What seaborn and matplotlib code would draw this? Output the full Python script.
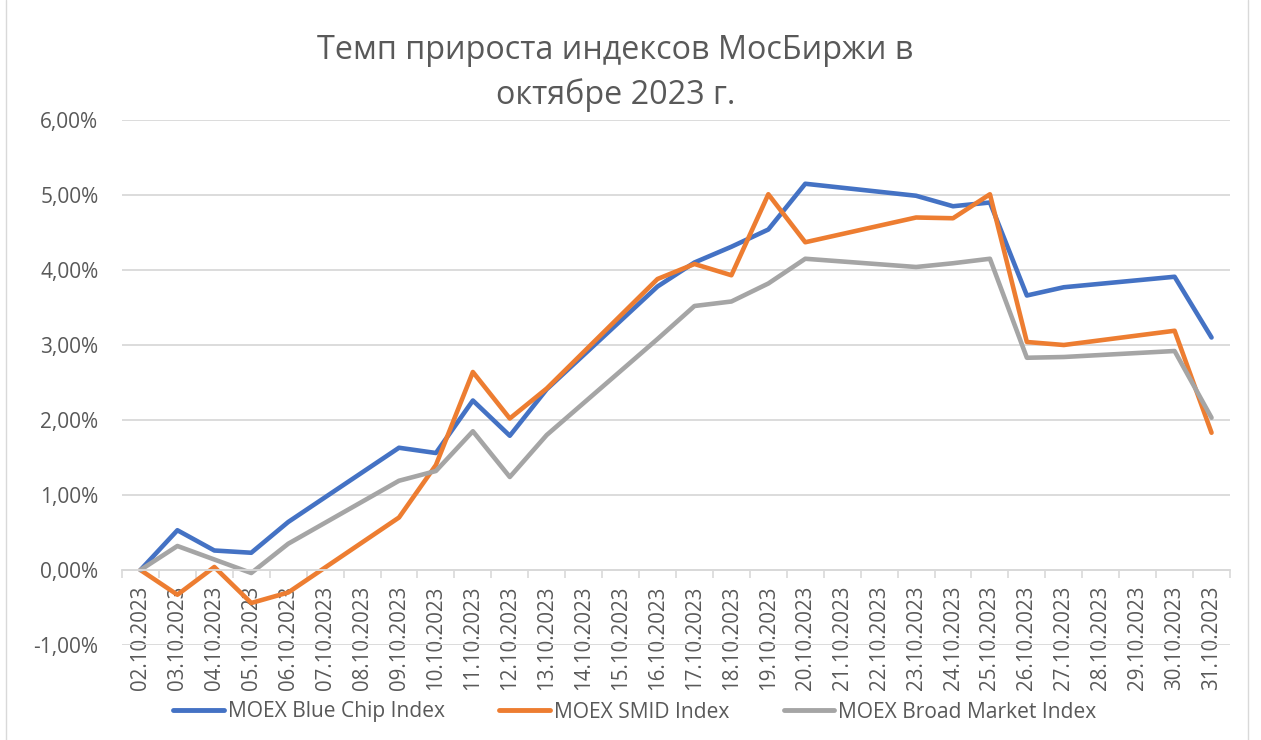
import pandas as pd
import numpy as np
import matplotlib
matplotlib.use("Agg")
import matplotlib.pyplot as plt
import matplotlib.ticker as mticker
from matplotlib.lines import Line2D
import seaborn as sns

# Trading days and index growth (%) since 02.10.2023
trade_dates = ['02.10.2023', '03.10.2023', '04.10.2023', '05.10.2023', '06.10.2023',
               '09.10.2023', '10.10.2023', '11.10.2023', '12.10.2023', '13.10.2023',
               '16.10.2023', '17.10.2023', '18.10.2023', '19.10.2023', '20.10.2023',
               '23.10.2023', '24.10.2023', '25.10.2023', '26.10.2023', '27.10.2023',
               '30.10.2023', '31.10.2023']
blue_chip = [0.00, 0.53, 0.26, 0.23, 0.64, 1.63, 1.56, 2.26, 1.79, 2.41,
             3.78, 4.10, 4.31, 4.54, 5.15, 4.99, 4.85, 4.90, 3.66, 3.77,
             3.91, 3.10]
smid = [0.00, -0.33, 0.04, -0.44, -0.30, 0.70, 1.40, 2.64, 2.02, 2.42,
        3.88, 4.08, 3.93, 5.01, 4.37, 4.70, 4.69, 5.01, 3.04, 3.00,
        3.19, 1.83]
broad = [0.00, 0.32, 0.14, -0.04, 0.35, 1.19, 1.32, 1.85, 1.24, 1.80,
         3.08, 3.52, 3.58, 3.82, 4.15, 4.04, 4.09, 4.15, 2.83, 2.84,
         2.92, 2.03]
series_names = ['MOEX Blue Chip Index', 'MOEX SMID Index', 'MOEX Broad Market Index']
series_colors = ['#4472C4', '#ED7D31', '#A5A5A5']

# Category axis: every calendar day of the period
all_days = pd.date_range('2023-10-02', '2023-10-31', freq='D')
day_labels = [d.strftime('%d.%m.%Y') for d in all_days]

dates = pd.to_datetime(trade_dates, format='%d.%m.%Y')
day_idx = (dates - all_days[0]).days

df = pd.concat([
    pd.DataFrame({'day': day_idx, 'value': vals, 'index': name})
    for name, vals in zip(series_names, [blue_chip, smid, broad])
])

sns.set_theme(style='white')
plt.rcParams['font.family'] = ['Open Sans', 'DejaVu Sans']
text_color = '#595959'
grid_color = '#D9D9D9'

fig = plt.figure(figsize=(12.61, 7.40), dpi=100)
ax = fig.add_axes([122 / 1261, 1 - 645 / 740, (1230 - 122) / 1261, (645 - 120) / 740])

sns.lineplot(data=df, x='day', y='value', hue='index', hue_order=series_names,
             palette=series_colors, linewidth=3.3, ax=ax, legend=False)
for line in ax.lines:
    line.set_solid_joinstyle('round')
    line.set_solid_capstyle('round')

ax.set_xlim(-0.5, len(all_days) - 0.5)
ax.set_ylim(-1, 6)
ax.yaxis.set_major_locator(mticker.MultipleLocator(1))
ax.yaxis.set_major_formatter(mticker.FuncFormatter(lambda v, p: f'{v:.2f}%'.replace('.', ',')))
ax.grid(True, axis='y', color=grid_color, linewidth=1.3)
ax.set_axisbelow(True)

ax.set_xticks(np.arange(len(all_days)))
ax.set_xticklabels(day_labels)
ax.set_xticks(np.arange(len(all_days) + 1) - 0.5, minor=True)
ax.tick_params(axis='x', which='major', length=0, pad=11, labelsize=14.8,
               labelcolor=text_color, labelrotation=90)
ax.tick_params(axis='x', which='minor', length=6, width=1.2, color=grid_color, direction='out', bottom=True)
ax.tick_params(axis='y', length=0, pad=17, labelsize=15, labelcolor=text_color)

for s in ['top', 'right', 'left']:
    ax.spines[s].set_visible(False)
ax.spines['bottom'].set_position(('data', 0))
ax.spines['bottom'].set_color(grid_color)
ax.spines['bottom'].set_linewidth(1.3)
ax.set_xlabel('')
ax.set_ylabel('')

fig.text(0.488, 1 - 73 / 740, 'Темп прироста индексов МосБиржи в\nоктябре 2023 г.',
         ha='center', va='center', fontsize=23.3, color=text_color, linespacing=1.45)

handles = [Line2D([0], [0], color=c, linewidth=3.5, solid_capstyle='round') for c in series_colors]
fig.legend(handles, series_names, loc='center', bbox_to_anchor=(635 / 1261, 1 - 712 / 740), ncol=3,
           frameon=False, fontsize=15.1, labelcolor=text_color, handlelength=2.4,
           handletextpad=0.2, columnspacing=2.6)

# chart area border
fig.add_artist(Line2D([6 / 1261, 6 / 1261], [0, 1], transform=fig.transFigure, color=grid_color, linewidth=1))
fig.add_artist(Line2D([1248 / 1261, 1248 / 1261], [0, 1], transform=fig.transFigure, color=grid_color, linewidth=1))

fig.savefig('out.png', dpi=100, facecolor='white')
